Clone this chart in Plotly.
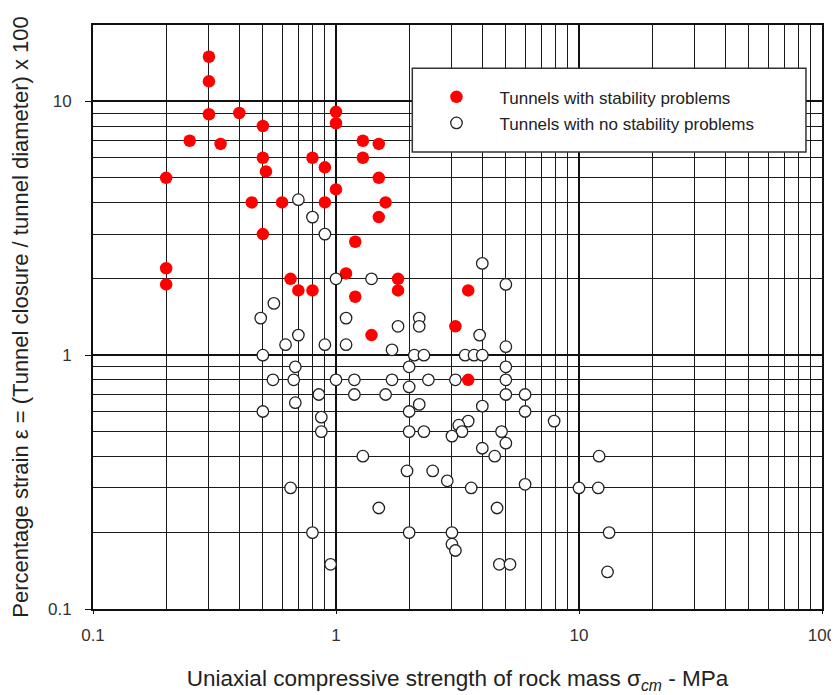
import plotly.graph_objects as go

# Tunnels with stability problems (red)
prob_x = [0.3, 0.3, 0.3, 0.4, 0.5, 0.25, 0.335, 0.5, 0.515, 0.2,
          1.0, 1.0, 1.29, 1.5, 1.29, 0.8, 0.9, 1.5, 1.0, 0.45,
          0.6, 0.9, 1.6, 1.5, 0.5, 1.2, 0.2, 0.2, 0.65, 0.7,
          0.8, 1.1, 1.8, 1.8, 1.2, 1.4, 3.1, 3.5, 3.5]
prob_y = [15, 12, 8.9, 9.0, 8.0, 7.0, 6.8, 6.0, 5.3, 5.0,
          9.1, 8.2, 7.0, 6.8, 6.0, 6.0, 5.5, 5.0, 4.5, 4.0,
          4.0, 4.0, 4.0, 3.5, 3.0, 2.8, 2.2, 1.9, 2.0, 1.8,
          1.8, 2.1, 2.0, 1.8, 1.7, 1.2, 1.3, 1.8, 0.8]

# Tunnels with no stability problems (open)
ok_x = [0.7, 0.8, 0.9, 1.0, 1.4, 0.555, 0.49, 0.7, 0.62, 0.9,
        1.1, 1.1, 1.8, 2.2, 2.2, 1.7, 2.1, 2.3, 0.5, 0.68,
        0.55, 0.67, 1.0, 1.19, 1.7, 2.0, 2.4, 2.0, 0.85, 1.19,
        1.6, 0.5, 0.68, 2.2, 2.0, 0.87, 0.87, 2.0, 2.3, 1.29,
        1.96, 2.5, 0.65, 2.87, 1.5, 0.8, 2.0, 3.0, 3.0, 3.1,
        0.95, 4.0, 5.0, 3.9, 5.0, 3.4, 3.7, 4.0, 5.0, 3.1,
        5.0, 5.0, 6.0, 4.0, 6.0, 7.9, 3.5, 3.2, 3.3, 3.0,
        4.8, 5.0, 4.0, 4.5, 12.1, 3.6, 6.0, 10.0, 12.0, 4.6,
        13.3, 4.7, 5.2, 13.1]
ok_y = [4.1, 3.5, 3.0, 2.0, 2.0, 1.6, 1.4, 1.2, 1.1, 1.1,
        1.4, 1.1, 1.3, 1.4, 1.3, 1.05, 1.0, 1.0, 1.0, 0.9,
        0.8, 0.8, 0.8, 0.8, 0.8, 0.9, 0.8, 0.75, 0.7, 0.7,
        0.7, 0.6, 0.65, 0.64, 0.6, 0.57, 0.5, 0.5, 0.5, 0.4,
        0.35, 0.35, 0.3, 0.32, 0.25, 0.2, 0.2, 0.2, 0.18, 0.17,
        0.15, 2.3, 1.9, 1.2, 1.08, 1.0, 1.0, 1.0, 0.9, 0.8,
        0.8, 0.7, 0.7, 0.63, 0.6, 0.55, 0.55, 0.53, 0.5, 0.48,
        0.5, 0.45, 0.43, 0.4, 0.4, 0.3, 0.31, 0.3, 0.3, 0.25,
        0.2, 0.15, 0.15, 0.14]

x_ticks = [0.1, 1, 10, 100]
x_ticktext = ["0.1", "1", "10", "100"]
y_ticks = [0.1, 1, 10]
y_ticktext = ["0.1", "1", "10"]

FONT = "Liberation Sans, Arial, sans-serif"

fig = go.Figure()
fig.add_trace(go.Scatter(
    x=prob_x, y=prob_y, mode="markers",
    name="Tunnels with stability problems", legendgroup="a",
    marker=dict(size=12.5, color="#ff0000", line=dict(width=0)),
))
fig.add_trace(go.Scatter(
    x=ok_x, y=ok_y, mode="markers",
    name="Tunnels with no stability problems", legendgroup="b",
    marker=dict(size=11.5, color="white", line=dict(width=1.3, color="#222")),
))

grid_minor = dict(dtick="D1", showgrid=True, gridcolor="#1a1a1a", gridwidth=1.2, ticks="")

fig.update_xaxes(
    type="log", range=[-1, 2], automargin=False,
    tickvals=x_ticks, ticktext=x_ticktext,
    showgrid=True, gridcolor="#111", gridwidth=1.8,
    minor=grid_minor,
    showline=True, linecolor="#111", linewidth=2, mirror=True,
    ticks="outside", ticklen=3, tickcolor="#111",
    tickfont=dict(family=FONT, size=17, color="#333"),
    ticklabelstandoff=7,
    zeroline=False,
    title=dict(text="Uniaxial compressive strength of rock mass σ<sub><i>cm</i></sub> - MPa",
               font=dict(family=FONT, size=22.5, color="#222"), standoff=26),
)
fig.update_yaxes(
    type="log", range=[-1, 1.30103], automargin=False,
    tickvals=y_ticks, ticktext=y_ticktext,
    showgrid=True, gridcolor="#111", gridwidth=1.8,
    minor=grid_minor,
    showline=True, linecolor="#111", linewidth=2, mirror=True,
    ticks="outside", ticklen=6, tickcolor="#111",
    tickfont=dict(family=FONT, size=17, color="#333"),
    ticklabelstandoff=10,
    zeroline=False,
    title=dict(text="Percentage strain ε = (Tunnel closure / tunnel diameter) x 100",
               font=dict(family=FONT, size=22, color="#222"), standoff=18),
)

fig.add_shape(type="rect", xref="paper", yref="paper",
              x0=0.438, x1=0.978, y0=0.7825, y1=0.926,
              fillcolor="white", line=dict(color="#333", width=1.5), layer="above")

fig.update_layout(
    width=831, height=687,
    margin=dict(l=85, r=17, t=17, b=86),
    paper_bgcolor="white", plot_bgcolor="white",
    showlegend=True,
    legend=dict(x=0.4396, y=0.907, xanchor="left", yanchor="top",
                bgcolor="rgba(0,0,0,0)", borderwidth=0,
                itemwidth=76,
                traceorder="grouped", tracegroupgap=1,
                font=dict(family=FONT, size=17, color="#222")),
)

fig.write_html("out.html")
